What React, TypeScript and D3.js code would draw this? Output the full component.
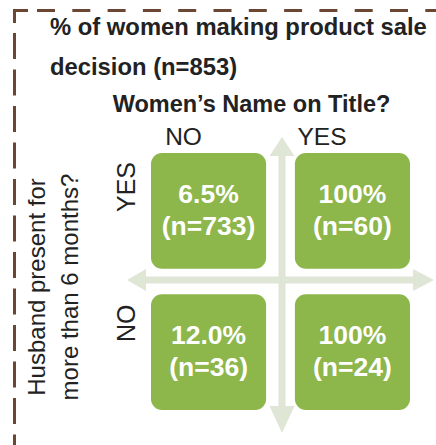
import React from 'react'
import * as d3 from 'd3'

// Women's name on title (columns) x husband present (rows)
const titleCols = ['NO', 'YES']
const husbandRows = ['YES', 'NO']
const pctValues = [
  ['6.5%', '100%'],
  ['12.0%', '100%'],
]
const nValues = [
  [733, 60],
  [36, 24],
]

const W = 436
const H = 445
const FONT = 'Liberation Sans, Arial, sans-serif'
const GREEN = '#8db64b'
const ARROW = '#dfe6d6'
const DASH = '#6b4632'

export default function App() {
  const x = d3.scaleBand<string>().domain(titleCols).range([151, 410]).paddingInner(0.2)
  const y = d3.scaleBand<string>().domain(husbandRows).range([153, 410]).paddingInner(0.18)

  const cx = 282
  const cy = 280
  const arrowW = 7

  return (
    <svg width={W} height={H} style={{ position: 'absolute', left: 0, top: 0 }}>
      {/* dashed frame */}
      <path d="M14.5,23 L14.5,10.5 L28,10.5" fill="none" stroke={DASH} strokeWidth={3} />
      <line x1={37} y1={10.5} x2={436} y2={10.5} stroke={DASH} strokeWidth={3} strokeDasharray="18 17.3" />
      <line x1={14.5} y1={33} x2={14.5} y2={445} stroke={DASH} strokeWidth={3} strokeDasharray="26 10.5" />

      {/* title */}
      <text x={50} y={35} fontFamily={FONT} fontWeight="bold" fontSize={23.8} fill="#222">
        % of women making product sale
      </text>
      <text x={50} y={75} fontFamily={FONT} fontWeight="bold" fontSize={23.8} fill="#222">
        decision (n=853)
      </text>
      <text x={251.5} y={112} textAnchor="middle" fontFamily={FONT} fontWeight="bold" fontSize={23.5} fill="#222">
        Women’s Name on Title?
      </text>

      {/* arrows */}
      <rect x={cx - arrowW / 2} y={150} width={arrowW} height={262} fill={ARROW} />
      <path d={`M${cx},137 L${cx + 12.5},156 L${cx - 12.5},156 Z`} fill={ARROW} />
      <path d={`M${cx},433 L${cx + 12.5},406 L${cx - 12.5},406 Z`} fill={ARROW} />
      <rect x={140} y={cy - arrowW / 2} width={282} height={arrowW} fill={ARROW} />
      <path d={`M127,${cy} L146,${cy - 11} L146,${cy + 11} Z`} fill={ARROW} />
      <path d={`M434,${cy} L413,${cy - 11} L413,${cy + 11} Z`} fill={ARROW} />

      {/* column labels */}
      {titleCols.map((c) => (
        <text key={c} x={c === 'NO' ? 183.5 : 322} y={145}
          textAnchor="middle" fontFamily={FONT} fontSize={24.5} fill="#222">{c}</text>
      ))}

      {/* row labels */}
      {husbandRows.map((r) => (
        <text key={r} transform={`translate(135,${y(r)! + (r === 'YES' ? 34 : 29)}) rotate(-90)`}
          textAnchor="middle" fontFamily={FONT} fontSize={25} fill="#222">{r}</text>
      ))}

      {/* y axis title */}
      <g transform={`translate(45,287) rotate(-90)`}>
        <text x={0} y={0} textAnchor="middle" fontFamily={FONT} fontSize={24} fill="#222">Husband present for</text>
        <text x={0} y={33} textAnchor="middle" fontFamily={FONT} fontSize={24} fill="#222">more than 6 months?</text>
      </g>

      {/* cells */}
      {husbandRows.map((r, i) =>
        titleCols.map((c, j) => {
          const bx = x(c)!
          const by = y(r)!
          const mid = bx + x.bandwidth() / 2
          return (
            <g key={`${r}-${c}`}>
              <rect x={bx} y={by} width={x.bandwidth()} height={y.bandwidth()} rx={11} fill={GREEN} />
              <text x={mid} y={by + 50} textAnchor="middle" fontFamily={FONT} fontWeight="bold" fontSize={26.5} fill="#fff">
                {pctValues[i][j]}
              </text>
              <text x={mid} y={by + 82} textAnchor="middle" fontFamily={FONT} fontWeight="bold" fontSize={26.5} fill="#fff">
                (n={nValues[i][j]})
              </text>
            </g>
          )
        })
      )}
    </svg>
  )
}
